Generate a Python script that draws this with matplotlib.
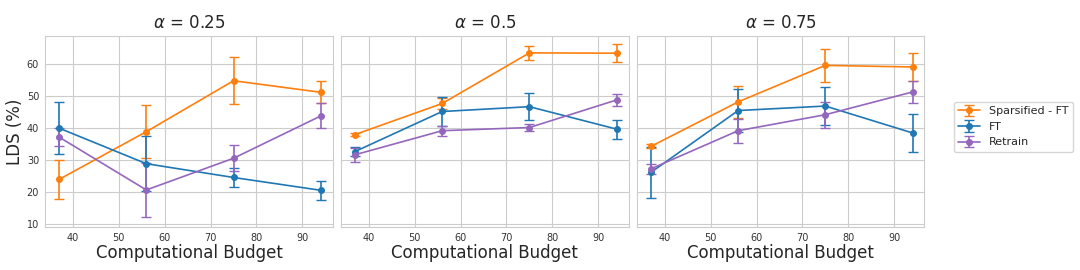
import numpy as np
import matplotlib
matplotlib.use("Agg")
import matplotlib.pyplot as plt
import seaborn as sns

sns.set_style("whitegrid")
plt.rcParams['font.family'] = ['DejaVu Sans']

budget = [37, 56, 75, 94]
alphas = ["0.25", "0.5", "0.75"]
methods = ["Sparsified - FT", "FT", "Retrain"]
colors = ["tab:orange", "tab:blue", "tab:purple"]

# mean LDS per alpha panel
sparsified_mean = [[24.0, 38.9, 54.8, 51.2], [38.0, 47.7, 63.5, 63.4], [34.3, 48.2, 59.6, 59.1]]
ft_mean = [[40.0, 28.9, 24.6, 20.6], [32.7, 45.2, 46.7, 39.7], [26.2, 45.5, 46.9, 38.5]]
retrain_mean = [[37.2, 20.7, 30.6, 43.8], [31.7, 39.2, 40.2, 48.8], [27.3, 39.2, 44.2, 51.3]]

# error bar half widths
sparsified_err = [[6.2, 8.3, 7.4, 3.5], [0.4, 1.7, 2.3, 2.8], [0.6, 5.1, 5.2, 4.3]]
ft_err = [[8.2, 8.6, 3.0, 3.0], [1.3, 4.5, 4.3, 3.0], [8.0, 6.8, 6.0, 6.0]]
retrain_err = [[2.8, 8.5, 4.0, 3.9], [2.2, 1.6, 1.2, 2.0], [1.6, 3.7, 4.1, 3.4]]

means = [sparsified_mean, ft_mean, retrain_mean]
errs = [sparsified_err, ft_err, retrain_err]

fig, axes = plt.subplots(1, 3, figsize=(10.8, 2.7), dpi=100, sharey=True)
fig.subplots_adjust(left=0.042, right=0.856, top=0.867, bottom=0.16, wspace=0.03)

for i, ax in enumerate(axes):
    for m in range(3):
        ax.errorbar(budget, means[m][i], yerr=errs[m][i], color=colors[m], marker='o',
                    markersize=4, linewidth=1.2, elinewidth=1.2, capsize=3.5,
                    label=methods[m])
    ax.set_title(r"$\alpha$ = " + alphas[i], fontsize=12)
    ax.set_xlabel("Computational Budget", fontsize=12, labelpad=1)
    ax.set_xlim(34, 96.6)
    ax.set_xticks([40, 50, 60, 70, 80, 90])
    ax.tick_params(axis='both', labelsize=7, pad=1, colors='#333333')
    for s in ax.spines.values():
        s.set_color('#cccccc')

axes[0].set_ylim(9.2, 68.8)
axes[0].set_yticks([10, 20, 30, 40, 50, 60])
axes[0].set_ylabel("LDS (%)", fontsize=12, labelpad=2)

handles, labels = axes[2].get_legend_handles_labels()
fig.legend(handles, labels, loc='center left', bbox_to_anchor=(0.878, 0.53), fontsize=8,
           frameon=True)

fig.savefig("out.png", dpi=100)
